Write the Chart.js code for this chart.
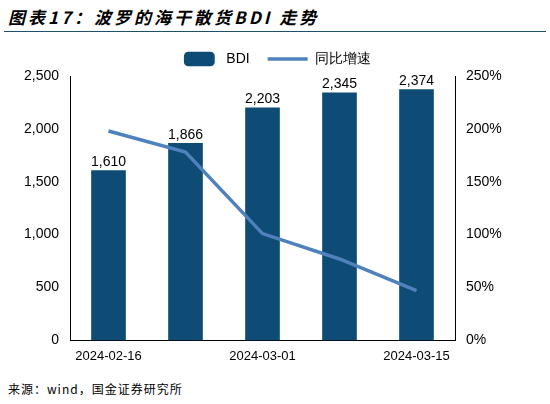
<!DOCTYPE html>
<html lang="zh">
<head>
<meta charset="UTF-8">
<script src="https://cdn.jsdelivr.net/npm/chart.js"></script>
<style>
    body { margin: 0; width: 550px; height: 404px; background: #fff; font-family: Arial, 'Liberation Sans', 'Noto Sans CJK SC', sans-serif; position: relative; }
    .title { position: absolute; left: 8px; top: 4px; font-size: 17px; font-weight: bold; font-style: italic; color: #000; font-family: 'Noto Sans CJK SC', sans-serif; letter-spacing: 3px; }
    .rule { position: absolute; left: 4px; right: 4px; top: 31px; border-top: 1px solid #1f4e6e; }
    .chart-box { position: absolute; left: 0; top: 34px; width: 550px; height: 338px; }
    .source { position: absolute; left: 8px; top: 380px; font-size: 12px; color: #000; font-family: 'Noto Sans CJK SC', sans-serif; letter-spacing: 1px; }
</style>
</head>
<body>
<div class="title">图表17：波罗的海干散货BDI 走势</div>
<div class="rule"></div>
<div class="chart-box"><canvas id="myChart"></canvas></div>
<div class="source">来源：wind，国金证券研究所</div>
<script>
    const categories = ['2024-02-16', '2024-02-23', '2024-03-01', '2024-03-08', '2024-03-15'];
    const bdiValues = [1610, 1866, 2203, 2345, 2374];
    const yoyValues = [198, 178, 101, 77, 47];
    const shownTicks = ['2024-02-16', '2024-03-01', '2024-03-15'];

    const barLabels = {
        id: 'barLabels',
        afterDatasetsDraw(chart) {
            const c = chart.ctx;
            const meta = chart.getDatasetMeta(1);
            c.save();
            c.font = '14px Arial';
            c.fillStyle = '#000';
            c.textAlign = 'center';
            meta.data.forEach((bar, i) => {
                c.fillText(bdiValues[i].toLocaleString('en-US'), bar.x, bar.y - 8);
            });
            c.restore();
        }
    };

    new Chart(document.getElementById('myChart'), {
        data: {
            labels: categories,
            datasets: [
                { type: 'line', label: '同比增速', data: yoyValues, yAxisID: 'y1', borderColor: '#4f81bd', borderWidth: 3.5, pointRadius: 0, pointStyle: 'line', order: 0 },
                { type: 'bar', label: 'BDI', data: bdiValues, yAxisID: 'y', backgroundColor: '#0f4c75', categoryPercentage: 0.9, barPercentage: 0.5, pointStyle: 'rectRounded', order: 1 }
            ]
        },
        options: {
            animation: false,
            responsive: true,
            maintainAspectRatio: false,
            layout: { padding: { top: 0, bottom: 0, left: 0, right: 0 } },
            plugins: {
                legend: {
                    reverse: true,
                    labels: { font: { size: 14 }, color: '#000', usePointStyle: true, pointStyleWidth: 40, boxHeight: 12, padding: 18 }
                },
                tooltip: { enabled: false }
            },
            scales: {
                x: {
                    grid: { display: false, drawTicks: false },
                    border: { color: '#000' },
                    ticks: {
                        color: '#000', font: { size: 13 }, maxRotation: 0, autoSkip: false, padding: 8,
                        callback: (v, i) => shownTicks.includes(categories[i]) ? categories[i] : ''
                    }
                },
                y: {
                    position: 'left', min: 0, max: 2500,
                    ticks: { stepSize: 500, color: '#000', font: { size: 14 }, callback: v => v.toLocaleString('en-US') },
                    grid: { display: false },
                    border: { color: '#000' },
                    afterFit: s => { s.width = 70; }
                },
                y1: {
                    position: 'right', min: 0, max: 250,
                    ticks: { stepSize: 50, color: '#000', font: { size: 14 }, callback: v => v + '%' },
                    grid: { display: false },
                    border: { color: '#000' },
                    afterFit: s => { s.width = 95; }
                }
            }
        },
        plugins: [barLabels]
    });
</script>
</body>
</html>
